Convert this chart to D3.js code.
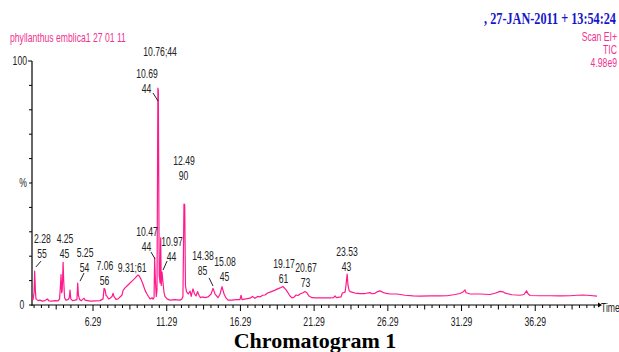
<!DOCTYPE html>
<html><head><meta charset="utf-8">
<script src="https://cdn.jsdelivr.net/npm/d3@7"></script>
<style>html,body{margin:0;padding:0;background:#fff;overflow:hidden}</style>
</head><body>
<svg id="c" width="619" height="352"></svg>
<script>
// ---- data ----
const retTimes = [2.15,2.22,2.29,2.33,2.38,2.42,2.56,2.69,2.85,3.03,3.20,3.30,3.50,3.71,3.92,4.02,4.08,4.12,4.16,4.20,4.26,4.30,4.36,4.45,4.60,4.68,4.73,4.78,4.90,5.07,5.20,5.25,5.30,5.38,5.50,5.68,5.75,6.09,6.43,6.76,6.97,7.04,7.10,7.17,7.24,7.35,7.44,7.58,7.65,7.71,7.85,7.99,8.12,8.25,8.33,8.46,8.63,8.80,8.97,9.14,9.34,9.41,9.55,9.68,9.82,9.95,10.05,10.16,10.29,10.36,10.43,10.47,10.52,10.58,10.63,10.69,10.72,10.78,10.84,10.88,10.92,10.97,11.04,11.11,11.17,11.31,11.51,11.85,12.19,12.32,12.39,12.46,12.51,12.56,12.63,12.75,12.87,12.95,13.07,13.18,13.28,13.38,13.48,13.58,13.68,13.89,14.09,14.30,14.43,14.57,14.77,14.91,15.04,15.18,15.31,15.45,15.72,15.99,16.26,16.33,16.40,16.67,16.94,17.10,17.28,17.45,17.62,17.80,17.96,18.13,18.30,18.47,18.64,18.81,18.98,19.17,19.35,19.52,19.65,19.79,19.95,20.06,20.20,20.33,20.53,20.67,20.80,20.94,21.15,21.42,21.69,22.03,22.37,22.60,22.71,22.80,23.12,23.20,23.25,23.39,23.45,23.53,23.59,23.66,23.73,24.06,24.40,24.74,25.08,25.20,25.42,25.60,25.76,25.95,26.10,26.44,26.91,27.46,28.00,28.47,29.15,29.83,30.31,30.85,31.19,31.39,31.52,31.60,31.87,32.55,33.22,33.56,33.90,34.10,34.24,34.72,35.26,35.53,35.70,35.80,35.94,36.62,37.29,37.97,38.65,39.13,39.53,40.01,40.48];
const intensity = [3.0,2.2,5.0,13.9,6.0,2.5,1.8,2.0,1.6,1.8,2.5,1.7,1.6,1.8,1.7,2.5,8.0,12.5,5.0,6.0,17.5,10.0,3.0,2.0,2.2,3.0,6.1,2.5,1.8,2.0,2.2,9.0,4.0,2.2,1.8,2.8,2.0,1.6,1.7,1.8,2.5,6.8,6.5,4.0,3.5,2.5,2.8,3.5,4.8,3.5,2.3,2.5,3.3,4.0,6.0,7.0,8.0,9.0,10.0,11.0,12.3,12.0,10.5,8.5,6.0,4.5,3.5,2.5,3.0,2.4,3.0,19.3,10.0,3.5,6.0,88.9,88.0,12.0,9.0,27.5,8.0,13.5,9.0,5.0,3.5,2.5,2.0,2.2,2.0,2.5,3.5,41.4,41.0,8.0,5.5,4.5,5.7,3.5,6.6,4.5,3.7,5.5,4.0,3.0,3.3,3.0,3.3,4.5,6.8,4.5,3.0,4.5,7.5,4.5,2.9,2.0,2.0,2.2,2.2,4.0,2.2,2.5,2.8,3.5,2.8,3.5,3.3,4.0,4.1,4.9,5.3,5.7,6.1,6.6,7.0,7.6,6.5,5.0,3.7,2.9,3.3,4.1,3.9,4.5,5.0,5.5,5.0,3.7,3.0,2.9,2.9,2.9,2.9,3.0,3.7,3.0,3.3,4.9,5.0,5.3,8.0,12.7,8.0,6.0,5.5,4.9,4.7,4.7,5.1,4.6,4.8,5.5,5.8,5.2,4.9,4.5,4.5,4.0,3.7,3.6,3.7,3.7,3.8,4.3,4.7,5.3,6.2,5.0,4.5,4.5,4.3,4.8,5.6,5.4,4.9,4.2,4.0,4.3,5.8,4.6,3.9,3.8,3.8,3.7,3.8,4.0,4.1,3.9,3.6];

const xTickLabels = ["6.29","11.29","16.29","21.29","26.29","31.29","36.29"];
const yTickLabels = ["100","%","0"];

// peak annotations: retention-time label, base mass, label anchor (time, %)
const peakLabels   = ["2.28","4.25","5.25","7.06","10.47","10.69","10.97","12.49","14.38","15.08","19.17","20.67","23.53"];
const peakMasses   = ["55","45","54","56","44","44","44","90","85","45","61","73","43"];
const peakAnchorT  = [2.86,4.39,5.75,7.10,9.95,9.95,11.65,12.46,13.75,15.25,19.25,20.74,23.52];
const peakAnchorP  = [27.0,27.0,21.3,16.0,29.9,94.7,25.8,59.0,20.1,17.6,16.8,15.2,21.7];
const singleLabels = ["9.31;61","10.76;44"];
const singleAnchorT = [8.94,10.84];
const singleAnchorP = [15.2,103.7];
// leader lines [t1,p1,t2,p2]
const leaders = [[2.42,15.6,2.76,18.0],[5.41,9.8,5.68,13.1],[10.36,86.9,10.70,83.6],[10.22,21.7,10.50,18.9],[11.31,18.0,11.04,14.3],[14.16,11.1,14.43,7.8]];

const titleText = "phyllanthus emblica1 27 01 11";
const dateText = ",  27-JAN-2011 + 13:54:24";
const rightInfo = ["Scan EI+","TIC","4.98e9"];
const chartTitle = "Chromatogram 1";

// ---- drawing ----
const svg = d3.select("#c");
const tMin = 2.15, tMax = 40.48;
const x = d3.scaleLinear().domain([tMin, tMax]).range([32, 597]);
const y = d3.scaleLinear().domain([0, 100]).range([305, 61]);

const PINK = "#ff1a8c", PINKT = "#f0338f";
const SX = 0.72;
function txt(px, py, s, o) {
  o = o || {};
  return svg.append("text")
    .attr("transform", `translate(${px},${py}) scale(${o.sx ?? SX},1)`)
    .attr("text-anchor", o.anchor || "middle")
    .attr("font-family", o.family || "'Liberation Sans', Arial, sans-serif")
    .attr("font-size", o.size || 12)
    .attr("font-weight", o.weight || "normal")
    .attr("fill", o.fill || "#222")
    .text(s);
}

// axes
const ax = svg.append("g").attr("stroke", "#000").attr("stroke-width", 1.2).attr("fill", "none");
ax.append("line").attr("x1", 32).attr("x2", 32).attr("y1", y(100)).attr("y2", y(0) + 1);
ax.append("line").attr("x1", 32).attr("x2", x(tMax) + 2).attr("y1", y(0)).attr("y2", y(0));
// y ticks every 10%
d3.range(0, 101, 10).forEach(v => {
  ax.append("line").attr("x1", v === 100 ? 28 : 29).attr("x2", 32).attr("y1", y(v)).attr("y2", y(v)).attr("stroke-width", 1);
});
// x ticks every 0.5 min
const xt = d3.range(2.29, tMax, 0.5);
xt.forEach(t => {
  const k = Math.round((t - 1.29) * 2);
  const len = (k % 10 === 0) ? 6 : (k % 5 === 0) ? 4.5 : 3;
  ax.append("line").attr("x1", x(t)).attr("x2", x(t)).attr("y1", y(0)).attr("y2", y(0) + len).attr("stroke-width", 1);
});
// small arrow at end of time axis
svg.append("path").attr("d", `M${x(tMax)+1},${y(0)-2.5} L${x(tMax)+5},${y(0)} L${x(tMax)+1},${y(0)+2.5} Z`).attr("fill", "#000");

xTickLabels.forEach(l => txt(x(+l), 326, l));
txt(601, 312, "Time", {anchor: "start"});
txt(27, 65, yTickLabels[0], {anchor: "end"});
txt(23, 187, yTickLabels[1]);
txt(22, 309, yTickLabels[2]);

// trace
const pts = retTimes.map((t, i) => [t, intensity[i]]);
svg.append("path").datum(pts)
  .attr("d", d3.line().x(d => x(d[0])).y(d => y(d[1])))
  .attr("fill", "none").attr("stroke", PINK).attr("stroke-width", 1.2).attr("stroke-linejoin", "round");

// peak labels
peakLabels.forEach((l, i) => {
  const px = x(peakAnchorT[i]), py = y(peakAnchorP[i]);
  txt(px, py + 4, l);
  txt(px - 0.5, py + 19, peakMasses[i]);
});
singleLabels.forEach((l, i) => txt(x(singleAnchorT[i]), y(singleAnchorP[i]) + 4, l));
leaders.forEach(d => {
  svg.append("line").attr("x1", x(d[0])).attr("y1", y(d[1])).attr("x2", x(d[2])).attr("y2", y(d[3]))
    .attr("stroke", "#222").attr("stroke-width", 1);
});

// headers
txt(10, 42, titleText, {anchor: "start", fill: PINKT});
txt(617, 41, rightInfo[0], {anchor: "end", fill: PINKT});
txt(617, 54, rightInfo[1], {anchor: "end", fill: PINKT});
txt(617, 67, rightInfo[2], {anchor: "end", fill: PINKT});
txt(616, 24, dateText, {anchor: "end", family: "'Liberation Serif','Times New Roman',serif", size: 17, weight: "bold", fill: "#1616c8"});
txt(315, 348, chartTitle, {sx: 1, family: "'Liberation Serif','Times New Roman',serif", size: 22, weight: "bold", fill: "#000"});
</script>
</body></html>
